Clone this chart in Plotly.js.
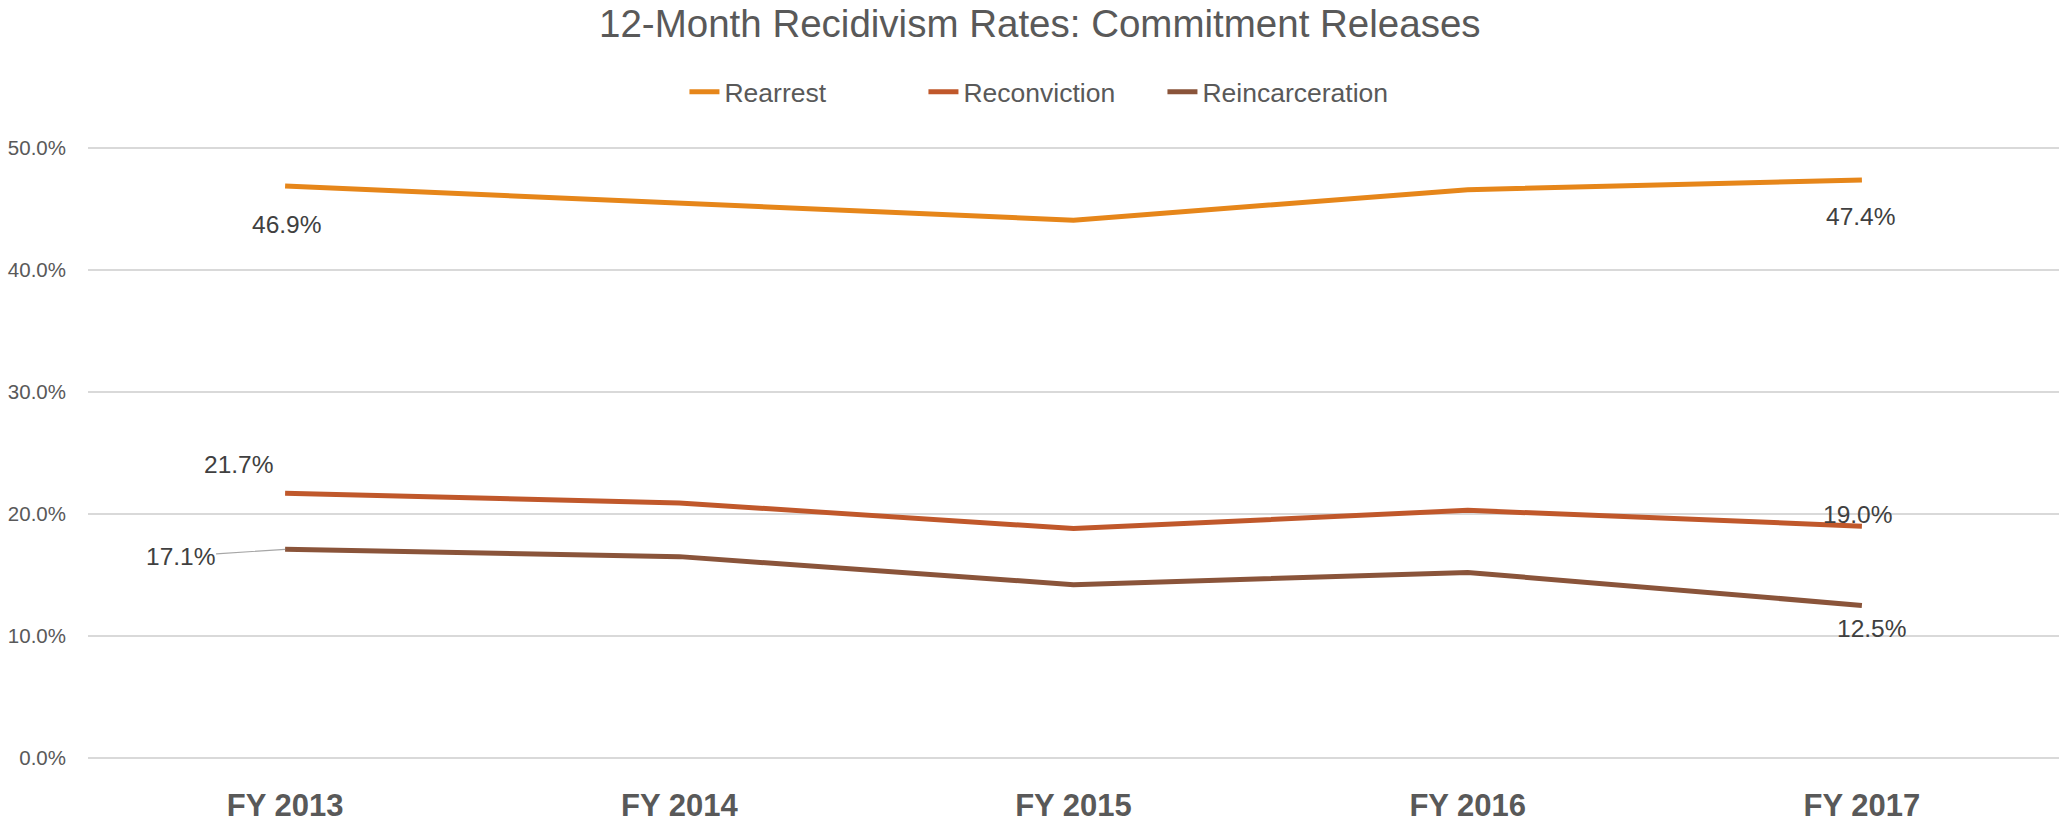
<!DOCTYPE html>
<html>
<head>
<meta charset="utf-8">
<script src="https://cdn.plot.ly/plotly-3.0.1.min.js"></script>
<style>html,body{margin:0;padding:0;background:#fff;}#chart{width:2059px;height:824px;}</style>
</head>
<body>
<div id="chart"></div>
<script>
const categories = ["FY 2013", "FY 2014", "FY 2015", "FY 2016", "FY 2017"];
const rearrest = [46.9, 45.5, 44.1, 46.6, 47.4];
const reconviction = [21.7, 20.9, 18.8, 20.3, 19.0];
const reincarceration = [17.1, 16.5, 14.2, 15.2, 12.5];
const yTicks = [0, 10, 20, 30, 40, 50];
const yTickText = yTicks.map(v => v.toFixed(1) + "%");

const FONT = "Liberation Sans, Arial, sans-serif";
const colors = {r: "#E6861A", c: "#C0582B", i: "#8A543A"};

const traces = [
  {x: categories, y: rearrest, name: "Rearrest", type: "scatter", mode: "lines",
   line: {color: colors.r, width: 5}},
  {x: categories, y: reconviction, name: "Reconviction", type: "scatter", mode: "lines",
   line: {color: colors.c, width: 5}},
  {x: categories, y: reincarceration, name: "Reincarceration", type: "scatter", mode: "lines",
   line: {color: colors.i, width: 5}}
];

const lab = (v) => v.toFixed(1) + "%";
const labFont = {family: FONT, size: 24.5, color: "#404040"};
const last = categories.length - 1;
const annotations = [
  {x: categories[0], y: rearrest[0], text: lab(rearrest[0]), showarrow: false, xshift: 1, yshift: -38},
  {x: categories[last], y: rearrest[last], text: lab(rearrest[last]), showarrow: false, xshift: -1, yshift: -37},
  {x: categories[0], y: reconviction[0], text: lab(reconviction[0]), showarrow: false, xshift: -47, yshift: 29},
  {x: categories[last], y: reconviction[last], text: lab(reconviction[last]), showarrow: false, xshift: -4, yshift: 12},
  {x: categories[0], y: reincarceration[0], text: lab(reincarceration[0]), showarrow: true,
   arrowhead: 0, arrowwidth: 1.2, arrowcolor: "#A6A6A6", ax: -105, ay: 7, standoff: 0},
  {x: categories[last], y: reincarceration[last], text: lab(reincarceration[last]), showarrow: false, xshift: 10, yshift: -23}
].map(a => Object.assign({xref: "x", yref: "y", font: labFont}, a));

const layout = {
  width: 2059, height: 824,
  margin: {l: 88, r: 0, t: 146.5, b: 64.5, pad: 0},
  paper_bgcolor: "#ffffff", plot_bgcolor: "#ffffff",
  font: {family: FONT, color: "#595959"},
  title: {text: "12-Month Recidivism Rates: Commitment Releases",
    font: {family: FONT, size: 38.5, color: "#595959"},
    x: 0.505, xanchor: "center", xref: "container", y: 0.972, yanchor: "middle", yref: "container"},
  showlegend: true,
  legend: {orientation: "h", x: 0.4845, xanchor: "center", y: 1.09, yanchor: "middle",
    entrywidth: 194, entrywidthmode: "pixels",
    font: {family: FONT, size: 26.5, color: "#595959"}, traceorder: "normal"},
  xaxis: {type: "category", range: [-0.5, 4.5], showgrid: false, zeroline: false, showline: false,
    ticks: "outside", ticklen: 0, ticklabelstandoff: 19,
    tickfont: {family: FONT, size: 31, color: "#595959", weight: "bold"}, fixedrange: true},
  yaxis: {range: [-0.1, 50.1], tickmode: "array", tickvals: yTicks, ticktext: yTickText,
    showgrid: true, gridcolor: "#D9D9D9", gridwidth: 2, zeroline: false, showline: false,
    ticklabelstandoff: 21, tickfont: {family: FONT, size: 20.5, color: "#595959"}, fixedrange: true},
  annotations: annotations
};

Plotly.newPlot("chart", traces, layout, {displayModeBar: false, staticPlot: true});
</script>
</body>
</html>
